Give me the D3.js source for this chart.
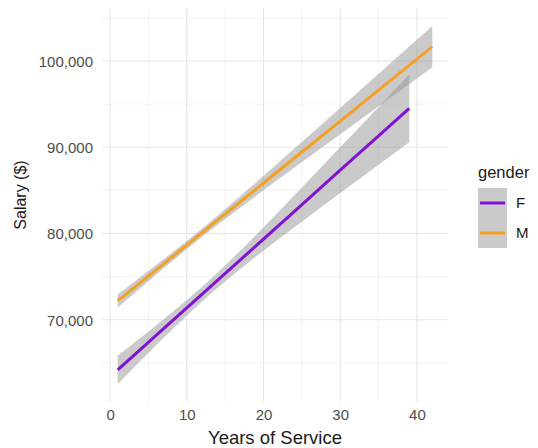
<!DOCTYPE html>
<html><head><meta charset="utf-8">
<script src="https://cdn.jsdelivr.net/npm/d3@7"></script>
<style>body{margin:0;background:#fff}svg{display:block}text{font-family:"Liberation Sans",Arial,Helvetica,sans-serif}</style>
</head><body>
<script>
// ---- data ----
const genders = ["F", "M"];
const fYears = [1, 6, 12, 18, 24, 30, 35, 39];
const fFit   = [64200, 68190, 72970, 77760, 82550, 87340, 91330, 94520];
const fLower = [62550, 67040, 72120, 76610, 80700, 84690, 87980, 90570];
const fUpper = [65850, 69340, 73820, 78910, 84400, 89990, 94680, 98470];
const mYears = [1, 6, 12, 18, 24, 30, 36, 42];
const mFit   = [72190, 75790, 80100, 84410, 88730, 93040, 97360, 101670];
const mLower = [71440, 75230, 79620, 83690, 87630, 91520, 95400, 99270];
const mUpper = [72940, 76350, 80580, 85130, 89830, 94560, 99320, 104070];
const xTicks = [0, 10, 20, 30, 40];
const xMinor = [5, 15, 25, 35];
const yTicks = [70000, 80000, 90000, 100000];
const yMinor = [65000, 75000, 85000, 95000, 105000];
const colors = {F: "#8112D4", M: "#F3A024"};

const W = 538, H = 448;
const svg = d3.select("body").append("svg").attr("width", W).attr("height", H);

const series = [
  {g: "F", x: fYears, fit: fFit, lo: fLower, hi: fUpper},
  {g: "M", x: mYears, fit: mFit, lo: mLower, hi: mUpper}
];

const allX = fYears.concat(mYears);
const allY = fLower.concat(fUpper, mLower, mUpper);
const xmin = d3.min(allX), xmax = d3.max(allX);
const ymin = d3.min(allY), ymax = d3.max(allY);
const xe = (xmax - xmin) * 0.05, ye = (ymax - ymin) * 0.05;

const P = {l: 102, r: 448, t: 8, b: 402};
const x = d3.scaleLinear().domain([xmin - xe, xmax + xe]).range([P.l, P.r]);
const y = d3.scaleLinear().domain([ymin - ye, ymax + ye]).range([P.b, P.t]);

// grid
const grid = svg.append("g");
grid.selectAll(".vminor").data(xMinor).join("line")
  .attr("x1", d => x(d)).attr("x2", d => x(d)).attr("y1", P.t).attr("y2", P.b)
  .attr("stroke", "#f0f0f0").attr("stroke-width", 0.8);
grid.selectAll(".hminor").data(yMinor).join("line")
  .attr("y1", d => y(d)).attr("y2", d => y(d)).attr("x1", P.l).attr("x2", P.r)
  .attr("stroke", "#f0f0f0").attr("stroke-width", 0.8);
grid.selectAll(".vmajor").data(xTicks).join("line")
  .attr("x1", d => x(d)).attr("x2", d => x(d)).attr("y1", P.t).attr("y2", P.b)
  .attr("stroke", "#e6e6e6").attr("stroke-width", 1.1);
grid.selectAll(".hmajor").data(yTicks).join("line")
  .attr("y1", d => y(d)).attr("y2", d => y(d)).attr("x1", P.l).attr("x2", P.r)
  .attr("stroke", "#e6e6e6").attr("stroke-width", 1.1);

// ribbons and lines
const area = d3.area().curve(d3.curveMonotoneX)
  .x(d => x(d.x)).y0(d => y(d.lo)).y1(d => y(d.hi));
const line = d3.line().x(d => x(d.x)).y(d => y(d.fit));
series.forEach(s => {
  const pts = s.x.map((v, i) => ({x: v, fit: s.fit[i], lo: s.lo[i], hi: s.hi[i]}));
  svg.append("path").datum(pts).attr("d", area)
    .attr("fill", "#959595").attr("fill-opacity", 0.5);
  svg.append("path").datum(pts).attr("d", line)
    .attr("fill", "none").attr("stroke", colors[s.g]).attr("stroke-width", 3);
});

// axes (text only, theme_minimal)
const xAxis = d3.axisBottom(x).tickValues(xTicks).tickSize(0).tickPadding(0);
const gx = svg.append("g").attr("transform", `translate(0,${P.b})`).call(xAxis);
gx.select(".domain").remove();
gx.selectAll("text").attr("y", 18).attr("dy", 0).attr("fill", "#4d4d4d")
  .style("font-size", "15px");

const yAxis = d3.axisLeft(y).tickValues(yTicks).tickSize(0).tickPadding(0)
  .tickFormat(d3.format(","));
const gy = svg.append("g").attr("transform", `translate(${P.l - 9},0)`).call(yAxis);
gy.select(".domain").remove();
gy.selectAll("text").attr("x", 0).attr("dy", "0.36em").attr("fill", "#4d4d4d")
  .style("font-size", "15px");

// axis titles
svg.append("text").attr("x", 275).attr("y", 444).attr("text-anchor", "middle")
  .attr("fill", "#1a1a1a").style("font-size", "18.5px").text("Years of Service");
svg.append("text").attr("transform", "translate(25.5,195) rotate(-90)")
  .attr("text-anchor", "middle").attr("fill", "#1a1a1a").style("font-size", "16px")
  .text("Salary ($)");

// legend
const lg = svg.append("g");
lg.append("text").attr("x", 478).attr("y", 178).attr("fill", "#1a1a1a")
  .style("font-size", "16.5px").text("gender");
genders.forEach((g, i) => {
  const ky = 188 + i * 30;
  lg.append("rect").attr("x", 478).attr("y", ky).attr("width", 29).attr("height", 30)
    .attr("fill", "#959595").attr("fill-opacity", 0.5);
  lg.append("line").attr("x1", 480).attr("x2", 505).attr("y1", ky + 15).attr("y2", ky + 15)
    .attr("stroke", colors[g]).attr("stroke-width", 3);
  lg.append("text").attr("x", 516).attr("y", ky + 15).attr("dy", "0.36em")
    .attr("fill", "#1a1a1a").style("font-size", "15px").text(g);
});
</script>
</body></html>
